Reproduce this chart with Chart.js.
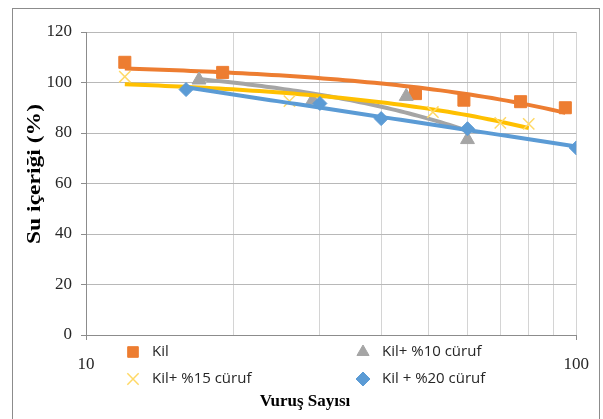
<!DOCTYPE html>
<html>
<head>
<meta charset="utf-8">
<script src="https://cdn.jsdelivr.net/npm/chart.js@4/dist/chart.umd.min.js"></script>
<style>
  html, body { margin: 0; padding: 0; background: #fff; }
  #wrap { position: relative; width: 603px; height: 419px; }
</style>
</head>
<body>
<div id="wrap"><canvas id="c" width="603" height="419"></canvas></div>
<script>
// Blow count (Vuruş Sayısı) and water content (%) for each mix
const kilX   = [12, 19, 47, 59, 77, 95];
const kilY   = [108, 104, 95.6, 93, 92.4, 90];
const kil10X = [17, 29, 45, 60];
const kil10Y = [101, 93, 94.5, 77.4];
const kil15X = [12, 26, 51, 70, 80];
const kil15Y = [102.3, 92.6, 88.3, 84, 83.6];
const kil20X = [16, 30, 40, 60, 100];
const kil20Y = [97.2, 91.7, 85.7, 81.7, 74.1];

const seriesNames = ['Kil', 'Kil+ %10 cüruf', 'Kil+ %15 cüruf', 'Kil + %20 cüruf'];
const yTicks  = [0, 20, 40, 60, 80, 100, 120];
const xGrid   = [10, 20, 30, 40, 50, 60, 70, 80, 90, 100];
const xLabels = [10, 100];
const xTitle  = 'Vuruş Sayısı';
const yTitle  = 'Su içeriği (%)';

// Least-squares trend fits
function solve(A, b) {
  const n = b.length;
  const M = A.map((r, i) => r.concat([b[i]]));
  for (let i = 0; i < n; i++) {
    let p = i;
    for (let k = i + 1; k < n; k++) if (Math.abs(M[k][i]) > Math.abs(M[p][i])) p = k;
    [M[i], M[p]] = [M[p], M[i]];
    for (let k = i + 1; k < n; k++) {
      const f = M[k][i] / M[i][i];
      for (let j = i; j <= n; j++) M[k][j] -= f * M[i][j];
    }
  }
  const x = new Array(n).fill(0);
  for (let i = n - 1; i >= 0; i--) {
    let s = M[i][n];
    for (let j = i + 1; j < n; j++) s -= M[i][j] * x[j];
    x[i] = s / M[i][i];
  }
  return x;
}
function polyFit(xs, ys, order, tf) {
  const t = xs.map(tf);
  const n = order + 1;
  const A = [], b = [];
  for (let i = 0; i < n; i++) {
    A.push([]);
    for (let j = 0; j < n; j++) A[i].push(t.reduce((s, v) => s + Math.pow(v, i + j), 0));
    b.push(t.reduce((s, v, k) => s + Math.pow(v, i) * ys[k], 0));
  }
  const c = solve(A, b);
  return x => c.reduce((s, ci, i) => s + ci * Math.pow(tf(x), i), 0);
}
const ident = v => v;
function trend(xs, ys, f) {
  const lo = Math.min(...xs), hi = Math.max(...xs);
  const pts = [];
  const N = 60;
  for (let i = 0; i <= N; i++) {
    const x = lo * Math.pow(hi / lo, i / N);
    pts.push({ x, y: f(x) });
  }
  return pts;
}
const pts = (xs, ys) => xs.map((x, i) => ({ x, y: ys[i] }));

const ORANGE = '#ED7D31', GRAY = '#A5A5A5', YELLOW = '#FFC000', BLUE = '#5B9BD5', PALE = '#FFD966';

// linear trends for the first three mixes, logarithmic for the last
const fKil   = polyFit(kilX, kilY, 1, ident);
const fKil10 = polyFit(kil10X, kil10Y, 1, ident);
const fKil15 = polyFit(kil15X, kil15Y, 1, ident);
const fKil20 = polyFit(kil20X, kil20Y, 1, Math.log);

function lineDs(data, color, order) {
  return { type: 'line', data, borderColor: color, borderWidth: 4, pointRadius: 0,
           fill: false, tension: 0, order, borderCapStyle: 'butt' };
}
function markDs(label, data, color, style, r, order, extra) {
  return Object.assign({ type: 'scatter', label, data, pointStyle: style, pointRadius: r,
           backgroundColor: color, borderColor: color, borderWidth: 1, order }, extra || {});
}

const datasets = [
  lineDs(trend(kilX, kilY, fKil), ORANGE, 8),
  markDs(seriesNames[0], pts(kilX, kilY), ORANGE, 'rect', 8.5, 7),
  lineDs(trend(kil10X, kil10Y, fKil10), GRAY, 6),
  markDs(seriesNames[1], pts(kil10X, kil10Y), GRAY, 'triangle', 8, 5),
  lineDs(trend(kil15X, kil15Y, fKil15), YELLOW, 4),
  markDs(seriesNames[2], pts(kil15X, kil15Y), PALE, 'crossRot', 8, 3, { borderWidth: 1.5 }),
  lineDs(trend(kil20X, kil20Y, fKil20), BLUE, 2),
  markDs(seriesNames[3], pts(kil20X, kil20Y), BLUE, 'rectRot', 7, 1)
];

const TEXT = '#262626';
const legendItems = [
  { name: seriesNames[0], color: ORANGE, style: 'rect', r: 7.5, x: 133, y: 352 },
  { name: seriesNames[1], color: GRAY, style: 'triangle', r: 7, x: 363, y: 352 },
  { name: seriesNames[2], color: PALE, style: 'crossRot', r: 8, x: 133, y: 379, bw: 1.5 },
  { name: seriesNames[3], color: BLUE, style: 'rectRot', r: 7, x: 363, y: 379 }
];

// draw text stretched along its baseline to a given length
function stretchedText(ctx, text, length) {
  const w = ctx.measureText(text).width;
  ctx.save();
  ctx.scale(length / w, 1);
  ctx.fillText(text, 0, 0);
  ctx.restore();
}

const decor = {
  id: 'decor',
  beforeDraw(chart) {
    const ctx = chart.ctx;
    ctx.save();
    ctx.fillStyle = '#fff';
    ctx.fillRect(0, 0, chart.width, chart.height);
    ctx.strokeStyle = '#8c8c8c';
    ctx.lineWidth = 1;
    ctx.strokeRect(12.5, 8.5, 587, 430);
    ctx.restore();
  },
  afterDraw(chart) {
    const ctx = chart.ctx;
    ctx.save();
    // legend
    legendItems.forEach(it => {
      ctx.fillStyle = it.color;
      ctx.strokeStyle = it.color;
      ctx.lineWidth = it.bw || 1;
      Chart.helpers.drawPoint(ctx, { pointStyle: it.style, radius: it.r, rotation: 0, borderWidth: it.bw || 1 }, it.x, it.y);
      ctx.fillStyle = TEXT;
      ctx.font = '15px "Liberation Sans Narrow", "Open Sans", sans-serif';
      ctx.textAlign = 'left';
      ctx.textBaseline = 'middle';
      ctx.fillText(it.name, it.x + 19, it.y);
    });
    // axis titles
    ctx.fillStyle = '#000';
    ctx.font = 'bold 17px "Liberation Serif", serif';
    ctx.textAlign = 'center';
    ctx.textBaseline = 'middle';
    ctx.fillText(xTitle, 305, 402);
    ctx.translate(35, 174);
    ctx.rotate(-Math.PI / 2);
    ctx.font = 'bold 18px "Liberation Serif", serif';
    stretchedText(ctx, yTitle, 140);
    ctx.restore();
  }
};

new Chart(document.getElementById('c'), {
  type: 'scatter',
  data: { datasets },
  options: {
    responsive: false,
    animation: false,
    devicePixelRatio: 1,
    layout: { padding: { left: 0, top: 32, right: 26, bottom: 0 } },
    plugins: { legend: { display: false }, tooltip: { enabled: false } },
    scales: {
      x: {
        type: 'logarithmic',
        min: 10, max: 100,
        afterBuildTicks: s => { s.ticks = xGrid.map(v => ({ value: v })); },
        afterFit: s => { s.height = 84; },
        ticks: {
          autoSkip: false, maxRotation: 0, padding: 14,
          color: TEXT,
          font: { family: '"Liberation Serif", serif', size: 17 },
          callback: v => (xLabels.includes(v) ? String(v) : '')
        },
        grid: {
          color: '#d4d4d4', lineWidth: 1, tickLength: 5,
          tickColor: c => (c.tick && xLabels.includes(c.tick.value) ? '#8c8c8c' : 'rgba(0,0,0,0)')
        },
        border: { color: '#8c8c8c', width: 1 }
      },
      y: {
        min: 0, max: 120,
        afterBuildTicks: s => { s.ticks = yTicks.map(v => ({ value: v })); },
        afterFit: s => { s.width = 86; },
        ticks: {
          padding: 9, color: TEXT,
          font: { family: '"Liberation Serif", serif', size: 17 }
        },
        grid: { color: '#b8b8b8', lineWidth: 1, tickLength: 5, tickColor: '#8c8c8c' },
        border: { color: '#8c8c8c', width: 1 }
      }
    }
  },
  plugins: [decor]
});
</script>
</body>
</html>
